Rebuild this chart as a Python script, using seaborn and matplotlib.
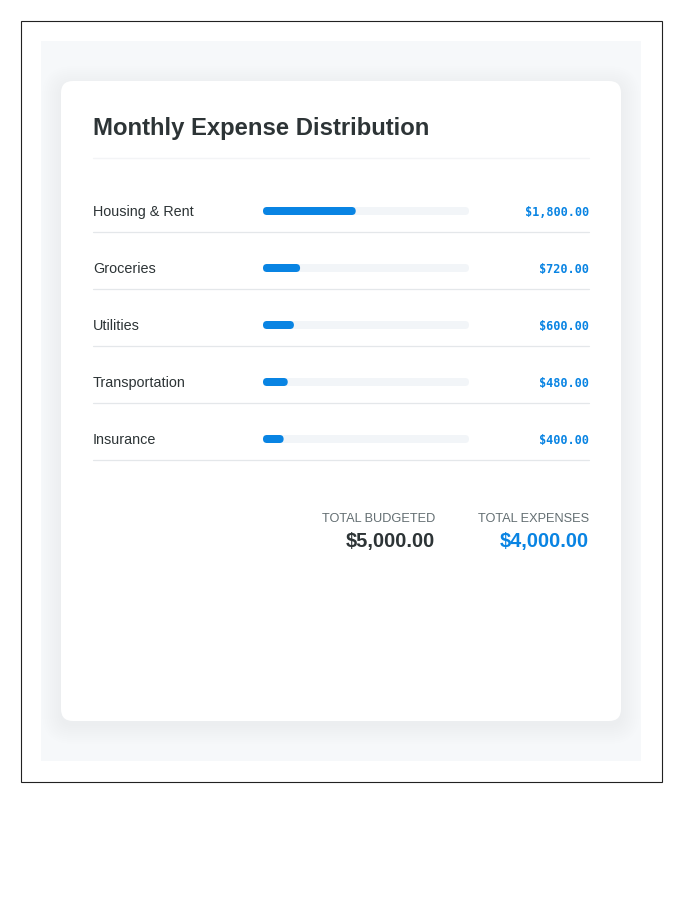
import pandas as pd
import seaborn as sns
import matplotlib.pyplot as plt
from matplotlib.patches import FancyBboxPatch, Rectangle

# data
categories = ["Housing & Rent", "Groceries", "Utilities", "Transportation", "Insurance"]
amounts = [1800.00, 720.00, 600.00, 480.00, 400.00]
total_budgeted = 5000.00
title = "Monthly Expense Distribution"

total_expenses = sum(amounts)
df = pd.DataFrame({"category": categories, "amount": amounts})
df["share"] = df["amount"] / total_expenses * 100
df["track"] = 100

BLUE = "#0984e3"
DARK = "#2d3436"
GREY = "#636e72"
TRACK = "#f2f5f8"

sns.set_theme(style="white")
plt.rcParams["font.family"] = ["Liberation Sans", "DejaVu Sans"]

fig = plt.figure(figsize=(7, 9), dpi=100)
fig.patch.set_facecolor("white")

# background axes in pixel coordinates
bg = fig.add_axes([0, 0, 1, 1])
bg.set_xlim(0, 700)
bg.set_ylim(900, 0)
bg.axis("off")

bg.add_patch(Rectangle((20.5, 20.5), 641, 761, fill=False, ec="#222222", lw=0.8))
bg.add_patch(Rectangle((41, 41), 600, 720, fc="#f6f8fa", ec="none"))
# soft card shadow
for g in range(1, 20, 2):
    bg.add_patch(FancyBboxPatch((61 - g, 85 - g), 560 + 2 * g, 640 + 2 * g,
                                boxstyle=f"round,pad=0,rounding_size={12 + g}",
                                fc="#2a4060", ec="none", alpha=0.0028))
bg.add_patch(FancyBboxPatch((61, 81), 560, 640, boxstyle="round,pad=0,rounding_size=12",
                            fc="white", ec="none"))

bg.text(93, 128, title, fontsize=17.2, fontweight="bold", color=DARK, va="center", ha="left")
bg.plot([93, 589], [158, 158], color="#f3f4f6", lw=1)

row0, step = 211, 57
for i, (cat, amt) in enumerate(zip(categories, amounts)):
    y = row0 + i * step
    bg.text(93, y + 1, cat, fontsize=10.4, color=DARK, va="center", ha="left")
    bg.text(589, y + 1.5, f"${amt:,.2f}", fontsize=8.6, fontweight="bold", color=BLUE,
            va="center", ha="right", family=["DejaVu Sans Mono"])
    bg.plot([93, 589], [y + 20.5, y + 20.5], color="#e4e7ea", lw=0.9)

# totals
label_kw = dict(fontsize=9.2, color=GREY, va="center", ha="right")
bg.text(435, 519.5, "TOTAL BUDGETED", **label_kw)
bg.text(589, 519.5, "TOTAL EXPENSES", **label_kw)
bg.text(435, 542, f"${total_budgeted:,.2f}", fontsize=14.5, fontweight="bold", color=DARK,
        va="center", ha="right")
bg.text(589, 542, f"${total_expenses:,.2f}", fontsize=14.5, fontweight="bold", color=BLUE,
        va="center", ha="right")

# bar axes aligned with the rows
top = row0 - step / 2
height = step * len(categories)
ax = fig.add_axes([263 / 700, 1 - (top + height) / 900, 206 / 700, height / 900])
ax.patch.set_visible(False)
bar_w = 8 / step
sns.barplot(data=df, x="track", y="category", order=categories, color=TRACK,
            width=bar_w, saturation=1, ax=ax)
sns.barplot(data=df, x="share", y="category", order=categories, color=BLUE,
            width=bar_w, saturation=1, ax=ax)
ax.set_xlim(0, 100)
ax.set_ylim(len(categories) - 0.5, -0.5)
ax.axis("off")

# round off the bar ends
px_x = 206 / 100
px_y = step
r = 4 / px_x
aspect = (4 / px_y) / r
for p in list(ax.patches):
    x, y, w, h = p.get_x(), p.get_y(), p.get_width(), p.get_height()
    fc = p.get_facecolor()
    p.remove()
    ax.add_patch(FancyBboxPatch((x, y), w, h, boxstyle=f"round,pad=0,rounding_size={r}",
                                mutation_aspect=aspect, fc=fc, ec="none"))

fig.savefig("out.png", dpi=100)
